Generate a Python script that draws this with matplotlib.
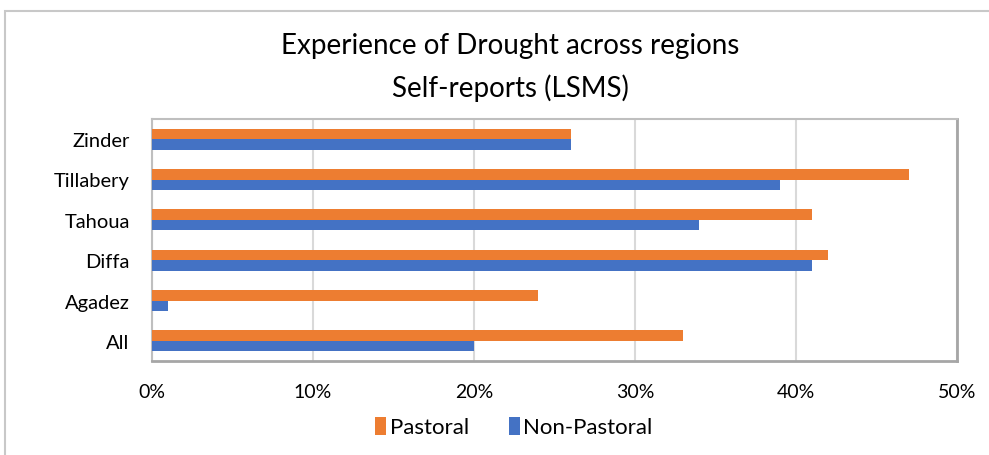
import matplotlib.pyplot as plt
from matplotlib.patches import Rectangle
import numpy as np

# data
regions = ['All', 'Agadez', 'Diffa', 'Tahoua', 'Tillabery', 'Zinder']
pastoral = [33, 24, 42, 41, 47, 26]
non_pastoral = [20, 1, 41, 34, 39, 26]
xticks = [0, 10, 20, 30, 40, 50]

plt.rcParams['font.family'] = ['Lato', 'DejaVu Sans']

W, H = 989, 456
fig = plt.figure(figsize=(W / 100, H / 100), dpi=100)

# chart frame like the Excel chart area
fig.patches.append(Rectangle((5 / W, -0.1), 1.2, (H - 12) / H + 0.1,
                             transform=fig.transFigure, fill=False,
                             edgecolor='#c8c8c8', linewidth=1.5))

ax = fig.add_axes([152 / W, 1 - 362 / H, (957 - 152) / W, (362 - 120) / H])

y = np.arange(len(regions))
h = 0.26
ax.barh(y + h / 2, pastoral, height=h, color='#ed7d31', label='Pastoral', zorder=3)
ax.barh(y - h / 2, non_pastoral, height=h, color='#4472c4', label='Non-Pastoral', zorder=3)

ax.set_xlim(0, 50)
ax.set_ylim(-0.5, len(regions) - 0.5)
ax.set_xticks(xticks)
ax.set_xticklabels([f'{t}%' for t in xticks], fontsize=14)
ax.set_yticks(y)
ax.set_yticklabels(regions, fontsize=14.5)
ax.tick_params(length=0, pad=16, axis='x')
ax.tick_params(length=0, pad=16, axis='y')
ax.grid(axis='x', color='#d9d9d9', linewidth=1.5, zorder=0)
for s in ax.spines.values():
    s.set_color('#bfbfbf')
    s.set_linewidth(1.5)
ax.spines['right'].set_color('#a6a6a6')
ax.spines['bottom'].set_color('#a6a6a6')
ax.spines['right'].set_linewidth(2)
ax.spines['bottom'].set_linewidth(2)

fig.text(510 / W, 1 - 46 / H, 'Experience of Drought across regions',
         ha='center', va='center', fontsize=20)
fig.text(510 / W, 1 - 88 / H, 'Self-reports (LSMS)',
         ha='center', va='center', fontsize=20)

fig.legend(loc='center', bbox_to_anchor=(514 / W, 1 - 428 / H), ncol=2,
           frameon=False, fontsize=16, handlelength=0.5, handleheight=0.9,
           handletextpad=0.15, columnspacing=1.8)

fig.savefig('out.png', dpi=100)
